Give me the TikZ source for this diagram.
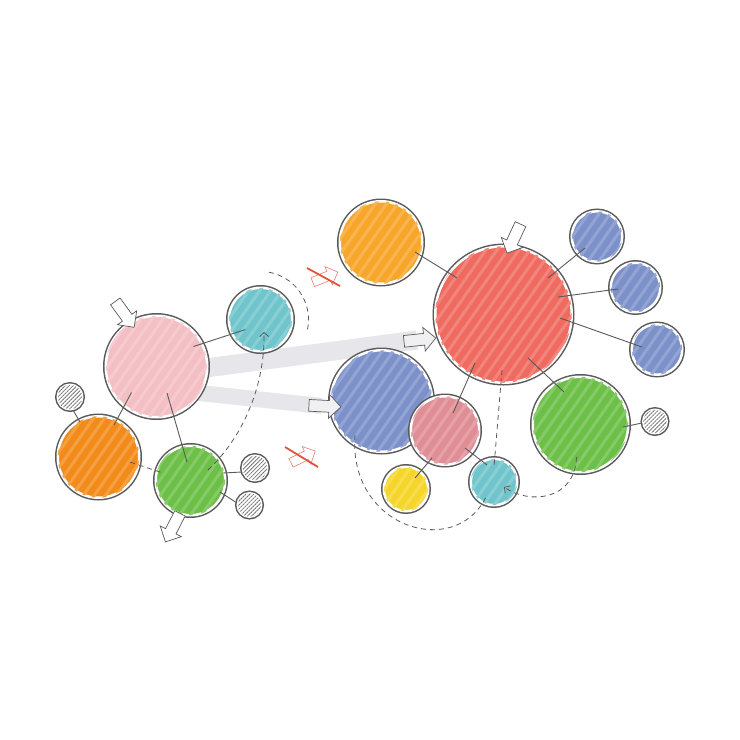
\documentclass[tikz,border=0pt]{standalone}
\usepackage{tikz}
\usetikzlibrary{calc,patterns.meta,shapes.arrows,arrows.meta,backgrounds}

\definecolor{ringc}{HTML}{5A5A5A}
\definecolor{bandc}{HTML}{E6E6EB}
\definecolor{pinkc}{HTML}{F3BFC4}
\definecolor{tealc}{HTML}{6FC5CB}
\definecolor{orangec}{HTML}{F38B1A}
\definecolor{greenc}{HTML}{6CBF47}
\definecolor{amberc}{HTML}{F8A629}
\definecolor{redc}{HTML}{EF6A5F}
\definecolor{bluec}{HTML}{7C91C9}
\definecolor{rosec}{HTML}{E08E95}
\definecolor{yellowc}{HTML}{F6D52A}
\definecolor{nogoc}{HTML}{E0533F}

\tikzset{
  bubble/.style={circle,inner sep=0pt,fill=#1,draw=white,line width=2.5pt,
    preaction={draw=ringc,line width=5.5pt},
    postaction={pattern={Lines[angle=55,distance=9pt,line width=3pt]},pattern color=#1!82!white}},
  hatchdot/.style={circle,inner sep=0pt,minimum size=#1,fill=white,draw=white,line width=2.5pt,
    preaction={draw=ringc,line width=5.5pt},
    postaction={pattern={Lines[angle=45,distance=2.8pt,line width=.8pt]},pattern color=ringc!85}},
  link/.style={draw=ringc,line width=.9pt},
  dashln/.style={draw=ringc,line width=.8pt,dash pattern=on 5pt off 4pt},
  band/.style={draw=bandc,line width=#1,line cap=butt},
  hollow/.style={single arrow,draw=ringc,fill=white,line width=.7pt,inner xsep=0pt,inner ysep=5.5pt,
    minimum height=32pt,single arrow head extend=6pt},
  xarrow/.style={single arrow,draw=nogoc!75,fill=white,line width=.6pt,inner xsep=0pt,inner ysep=4.5pt,
    minimum height=27pt,single arrow head extend=5pt},
  xline/.style={draw=nogoc,line width=1.8pt},
  opentip/.style={-{Straight Barb[length=4pt,width=9pt]}}
}

\begin{document}
\begin{tikzpicture}[x=1pt,y=-1pt]
\useasboundingbox (0,0) rectangle (740,740);

% left group
\node at (156.5,366.5) [bubble=pinkc,minimum size=101.5pt] (pink) {};
\node at (260.5,319.5) [bubble=tealc,minimum size=63.5pt] (tealL) {};
\node at (98.5,457) [bubble=orangec,minimum size=81.5pt] (orangeL) {};
\node at (190.5,480.5) [bubble=greenc,minimum size=69.5pt] (greenL) {};
\node at (70,397) [hatchdot=24.5pt] (dotA) {};
\node at (255,468) [hatchdot=24.5pt] (dotB) {};
\node at (249.5,505) [hatchdot=23.5pt] (dotC) {};

% right group
\node at (381,242.5) [bubble=amberc,minimum size=82.5pt] (amber) {};
\node at (503.5,314.5) [bubble=redc,minimum size=136.5pt] (red) {};
\node at (597,236.5) [bubble=bluec,minimum size=50.5pt] (blueA) {};
\node at (635.5,287.5) [bubble=bluec,minimum size=49.5pt] (blueB) {};
\node at (657,349.5) [bubble=bluec,minimum size=50.5pt] (blueC) {};
\node at (580.5,424.5) [bubble=greenc,minimum size=95.5pt] (greenR) {};
\node at (655,421.5) [hatchdot=23.5pt] (dotD) {};
\node at (381.5,401) [bubble=bluec,minimum size=101.5pt] (blue) {};
\node at (445,430.5) [bubble=rosec,minimum size=68.5pt] (rose) {};
\node at (406,489) [bubble=yellowc,minimum size=44.5pt] (yellow) {};
\node at (494,482) [bubble=tealc,minimum size=46.5pt] (tealS) {};

% arrows
\node at (123,312) [hollow,rotate=-54] (pinkin) {};
\node at (515,236) [hollow,rotate=-115] (redtop) {};
\node at (174,525) [hollow,rotate=-117] (greenout) {};
\node at (417,340) [hollow,fill=bandc!60,rotate=6] (redin) {};
\node at (322,406) [hollow,fill=bandc!60,rotate=-3] (bluein) {};
\node at (323,278) [xarrow,rotate=22] (nogoT) {};
\node at (301,458) [xarrow,rotate=26] (nogoB) {};
\draw[xline] ($(nogoT)+(-16,-10)$) -- ($(nogoT)+(17,8)$);
\draw[xline] ($(nogoB)+(-16,-11)$) -- ($(nogoB)+(17,9)$);

\begin{scope}[on background layer]
 \draw[band=19pt] ($(pink)+(0,8)$) -- (redin.center);
 \draw[band=16pt] ($(pink)+(0,22)$) -- (bluein.center);
\end{scope}

% links
\draw[link] ($(pink)+(37,-20)$) -- ($(tealL)+(-15,10)$);
\draw[link] ($(pink)+(-25,26)$) -- ($(orangeL)+(15.5,-32)$);
\draw[link] ($(pink)+(10.5,26.5)$) -- ($(greenL)+(-3.5,-18.5)$);
\draw[link] ($(dotA)+(3,13)$) -- ($(orangeL)+(-18.5,-35)$);
\draw[link] ($(greenL)+(32.5,-7.5)$) -- ($(dotB)+(-13,4)$);
\draw[link] ($(greenL)+(29.5,11.5)$) -- ($(dotC)+(-12.5,-2)$);
\draw[dashln] ($(orangeL)+(31.5,5)$) -- ($(greenL)+(-27.5,-7.5)$);

\draw[link] ($(amber)+(34,9.5)$) -- ($(red)+(-46.5,-36.5)$);
\draw[link] ($(red)+(44.5,-36.5)$) -- ($(blueA)+(-12,11.5)$);
\draw[link] ($(red)+(54.5,-17.5)$) -- ($(blueB)+(-17.5,1.5)$);
\draw[link] ($(red)+(56.5,3.5)$) -- ($(blueC)+(-15,-2.5)$);
\draw[link] ($(red)+(24.5,43.5)$) -- ($(greenR)+(-16.5,-32.5)$);
\draw[link] ($(greenR)+(42.5,2.5)$) -- ($(dotD)+(-13,1.5)$);
\draw[link] ($(red)+(-28.5,48.5)$) -- ($(rose)+(8,-17.5)$);
\draw[link] ($(rose)+(-13,27.5)$) -- ($(yellow)+(9,-11)$);
\draw[link] ($(rose)+(20,17.5)$) -- ($(tealS)+(-7,-17)$);
\draw[dashln] ($(red)+(-1.5,55.5)$) -- ($(tealS)+(0,-15)$);

% dashed routes
\draw[dashln,opentip] ($(greenL)+(17.5,-10.5)$) .. controls (240,440) and (265,390) .. ($(tealL)+(3.5,12.5)$);
\draw[dashln] ($(tealL)+(-80:48)$) arc[start angle=-80,end angle=13,radius=48];
\draw[dashln] ($(blue)+(-26.5,34)$) .. controls (348,528) and (455,560) .. ($(tealS)+(-8,15)$);
\draw[dashln,opentip] ($(greenR)+(-4,32.5)$) .. controls (575,500) and (530,505) .. ($(tealS)+(10,5)$);
\end{tikzpicture}
\end{document}
